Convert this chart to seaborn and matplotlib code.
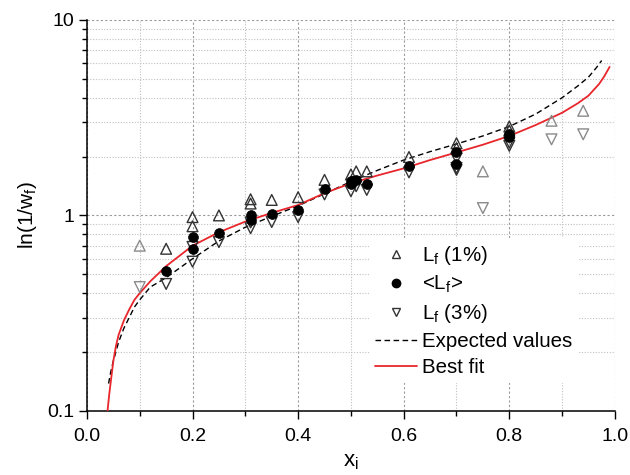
import numpy as np
import pandas as pd
import matplotlib
matplotlib.use("Agg")
import matplotlib.pyplot as plt
import seaborn as sns
from matplotlib.lines import Line2D
from matplotlib.ticker import MultipleLocator, LogLocator, NullFormatter, FixedLocator, FixedFormatter

# ---- data ----
# L_f (1%) upward triangles (main points)
up_x = [0.15, 0.2, 0.2, 0.25, 0.31, 0.31, 0.35, 0.4, 0.45, 0.5, 0.51, 0.53, 0.61, 0.7, 0.7, 0.8, 0.8]
up_y = [0.675, 0.98, 0.88, 1.0, 1.21, 1.15, 1.20, 1.24, 1.52, 1.62, 1.68, 1.68, 1.99, 2.34, 2.21, 2.85, 2.72]
# L_f (1%) lighter points
up_gray_x = [0.1, 0.75, 0.88, 0.94]
up_gray_y = [0.70, 1.68, 3.05, 3.43]

# <L_f> filled circles
mean_x = [0.15, 0.2, 0.2, 0.25, 0.31, 0.31, 0.35, 0.4, 0.45, 0.5, 0.5, 0.51, 0.53, 0.61, 0.7, 0.7, 0.8, 0.8]
mean_y = [0.52, 0.78, 0.67, 0.81, 1.01, 0.95, 1.02, 1.06, 1.36, 1.44, 1.50, 1.51, 1.45, 1.78, 2.12, 1.84, 2.61, 2.51]

# L_f (3%) downward triangles (main points)
dn_x = [0.15, 0.2, 0.2, 0.25, 0.31, 0.31, 0.35, 0.4, 0.45, 0.5, 0.51, 0.53, 0.61, 0.7, 0.7, 0.7, 0.8, 0.8]
dn_y = [0.446, 0.69, 0.58, 0.73, 0.92, 0.86, 0.925, 0.98, 1.28, 1.33, 1.41, 1.35, 1.66, 1.96, 1.75, 1.71, 2.36, 2.27]
# L_f (3%) lighter points
dn_gray_x = [0.1, 0.75, 0.88, 0.94]
dn_gray_y = [0.43, 1.09, 2.45, 2.60]

# Expected values (dashed curve)
exp_x = [0.041, 0.045, 0.05, 0.06, 0.07, 0.08, 0.09, 0.1, 0.12, 0.15, 0.2, 0.25, 0.3, 0.35, 0.4, 0.45,
         0.5, 0.55, 0.6, 0.65, 0.7, 0.75, 0.8, 0.85, 0.9, 0.93, 0.95, 0.965, 0.975]
exp_y = [0.138, 0.158, 0.18, 0.225, 0.265, 0.30, 0.34, 0.37, 0.43, 0.48, 0.60, 0.74, 0.87, 0.99, 1.12, 1.29,
         1.49, 1.70, 1.92, 2.12, 2.32, 2.55, 2.85, 3.30, 4.0, 4.6, 5.1, 5.7, 6.2]

# Best fit (red curve)
fit_x = [0.039, 0.042, 0.045, 0.05, 0.055, 0.06, 0.07, 0.08, 0.09, 0.1, 0.12, 0.15, 0.2, 0.25, 0.3, 0.35,
         0.4, 0.45, 0.5, 0.55, 0.6, 0.65, 0.7, 0.75, 0.8, 0.85, 0.9, 0.93, 0.95, 0.97, 0.98, 0.99]
fit_y = [0.10, 0.12, 0.14, 0.18, 0.215, 0.245, 0.29, 0.33, 0.37, 0.40, 0.46, 0.55, 0.70, 0.82, 0.93, 1.03,
         1.13, 1.30, 1.46, 1.60, 1.74, 1.92, 2.10, 2.30, 2.55, 2.90, 3.35, 3.75, 4.1, 4.7, 5.15, 5.75]

x_ticks = [0.0, 0.2, 0.4, 0.6, 0.8, 1.0]
x_tick_labels = ["0.0", "0.2", "0.4", "0.6", "0.8", "1.0"]
y_ticks = [0.1, 1, 10]
y_tick_labels = ["0.1", "1", "10"]

# ---- styling ----
sns.set_theme(style="white")
plt.rcParams["font.family"] = ["Liberation Sans", "DejaVu Sans"]
plt.rcParams["mathtext.fontset"] = "custom"
plt.rcParams["mathtext.rm"] = "Liberation Sans"
plt.rcParams["mathtext.it"] = "Liberation Sans:italic"
plt.rcParams["text.color"] = "black"
plt.rcParams["axes.labelcolor"] = "black"
plt.rcParams["xtick.color"] = "black"
plt.rcParams["ytick.color"] = "black"

fig = plt.figure(figsize=(6.3, 4.75), dpi=100)
ax = fig.add_axes([0.138, 0.135, 0.838, 0.823])

ax.set_yscale("log")

dark = "#333333"
light = "#8a8a8a"

# curves
sns.lineplot(x=exp_x, y=exp_y, ax=ax, color="black", lw=1.0, sort=False,
             linestyle=(0, (4, 2.5)), zorder=3)
sns.lineplot(x=fit_x, y=fit_y, ax=ax, color="#e8262b", lw=1.3, sort=False, zorder=3)

ms = 60
sns.scatterplot(x=up_x, y=up_y, ax=ax, marker="^", s=ms, facecolor="none",
                edgecolor=dark, linewidth=1.0, zorder=4)
sns.scatterplot(x=up_gray_x, y=up_gray_y, ax=ax, marker="^", s=ms, facecolor="none",
                edgecolor=light, linewidth=1.0, zorder=4)
sns.scatterplot(x=dn_x, y=dn_y, ax=ax, marker="v", s=ms, facecolor="none",
                edgecolor=dark, linewidth=1.0, zorder=4)
sns.scatterplot(x=dn_gray_x, y=dn_gray_y, ax=ax, marker="v", s=ms, facecolor="none",
                edgecolor=light, linewidth=1.0, zorder=4)
sns.scatterplot(x=mean_x, y=mean_y, ax=ax, marker="o", s=50, color="black",
                edgecolor="black", linewidth=0.5, zorder=5)

ax.set_xlim(0, 1.0)
ax.set_ylim(0.1, 10)

ax.xaxis.set_major_locator(FixedLocator(x_ticks))
ax.xaxis.set_major_formatter(FixedFormatter(x_tick_labels))
ax.xaxis.set_minor_locator(MultipleLocator(0.1))
ax.yaxis.set_major_locator(FixedLocator(y_ticks))
ax.yaxis.set_major_formatter(FixedFormatter(y_tick_labels))
ax.yaxis.set_minor_locator(LogLocator(base=10, subs=np.arange(2, 10)))
ax.yaxis.set_minor_formatter(NullFormatter())

ax.grid(True, which="major", color="#9a9a9a", linestyle=(0, (2, 2)), lw=0.8)
ax.grid(True, which="minor", color="#c0c0c0", linestyle=(0, (1, 1.5)), lw=0.8)
ax.set_axisbelow(True)

for s in ["top", "right"]:
    ax.spines[s].set_visible(False)
for s in ["left", "bottom"]:
    ax.spines[s].set_color("black")
    ax.spines[s].set_linewidth(1.1)

ax.tick_params(which="major", direction="out", length=6, width=1.0, color="black",
               labelcolor="black", labelsize=14, left=True, bottom=True, pad=3)
ax.tick_params(axis="x", which="major", pad=6)
ax.tick_params(which="minor", direction="out", length=3.5, width=1.0, color="black",
               left=True, bottom=True)

ax.set_xlabel(r"$\mathregular{x_i}$", fontsize=16, labelpad=5, color="black")
ax.set_ylabel(r"ln(1/$\mathregular{w_f}$)", fontsize=15, labelpad=6, color="black")

handles = [
    Line2D([], [], marker="^", linestyle="none", markerfacecolor="none",
           markeredgecolor=dark, markersize=6, markeredgewidth=1.0),
    Line2D([], [], marker="o", linestyle="none", color="black", markersize=6),
    Line2D([], [], marker="v", linestyle="none", markerfacecolor="none",
           markeredgecolor=dark, markersize=6, markeredgewidth=1.0),
    Line2D([], [], color="black", lw=1.0, linestyle=(0, (4, 2.5))),
    Line2D([], [], color="#e8262b", lw=1.3),
]
labels = [r"$\mathregular{L_f}$ (1%)", r"<$\mathregular{L_f}$>", r"$\mathregular{L_f}$ (3%)",
          "Expected values", "Best fit"]
leg = ax.legend(handles, labels, loc="lower left", bbox_to_anchor=(0.515, 0.045),
                frameon=True, framealpha=1, facecolor="white", edgecolor="none",
                fontsize=14.8, handlelength=2.05, handletextpad=0.2, labelspacing=0.33,
                borderpad=0.3, fancybox=False)
for t in leg.get_texts():
    t.set_color("black")
leg.set_zorder(6)

fig.savefig("out.png", dpi=100)
